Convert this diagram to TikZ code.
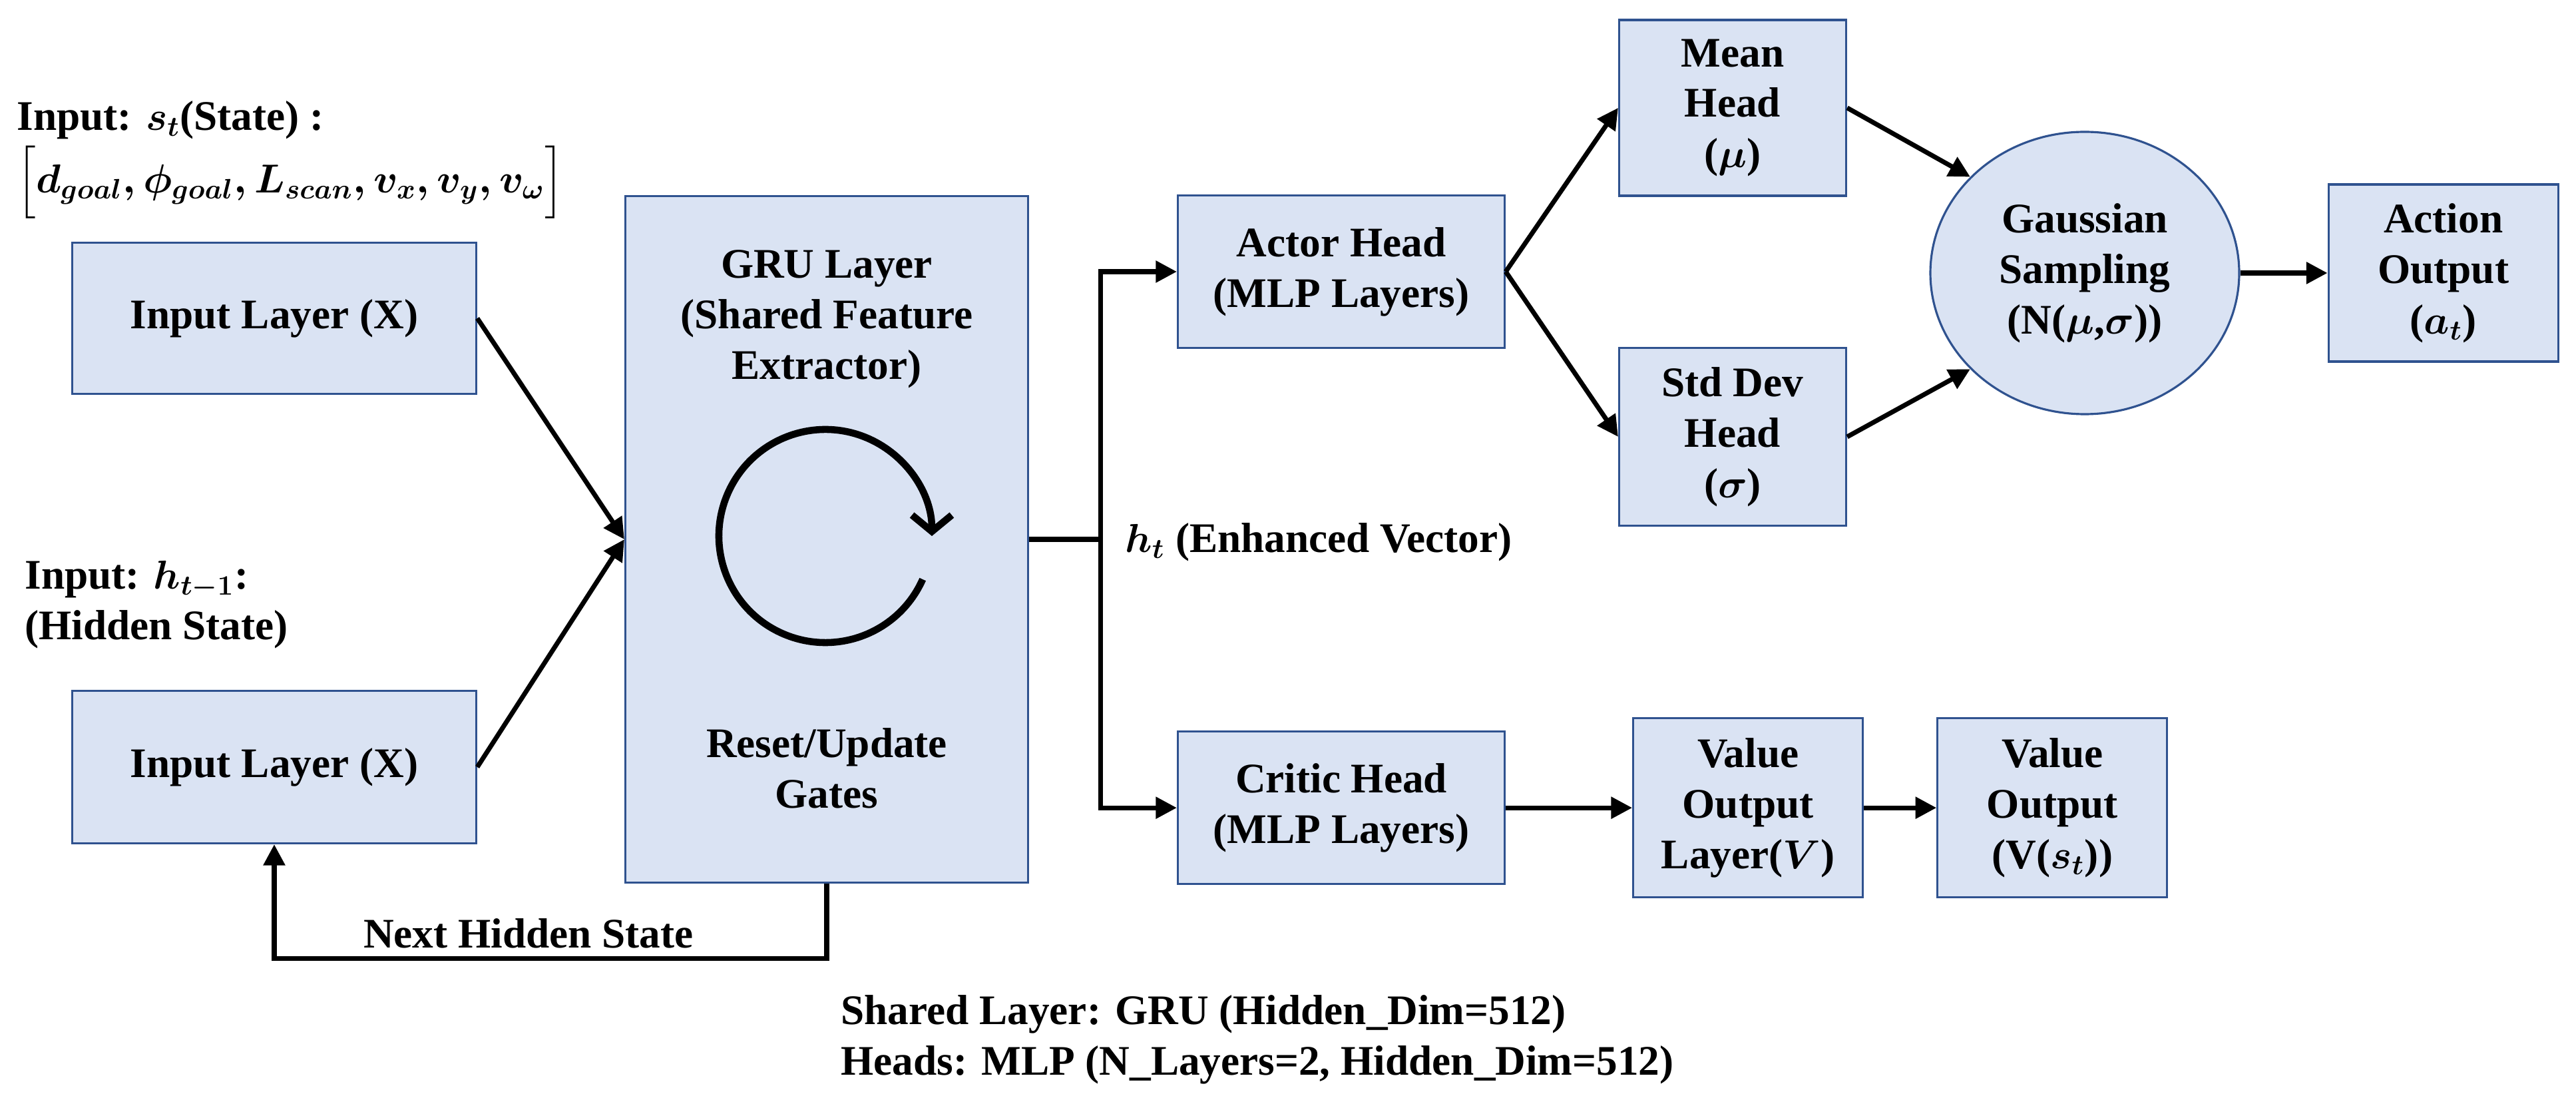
\documentclass[tikz,border=0pt]{standalone}
\usepackage{fontspec}
\setmainfont{Liberation Serif}
\usepackage{amsmath}
\definecolor{gruFill}{RGB}{218,227,243}
\definecolor{gruEdge}{RGB}{47,82,143}
\usetikzlibrary{arrows.meta,positioning,shapes.geometric,calc}

\begin{document}
\begin{tikzpicture}[
  every node/.style={font=\fontsize{18}{21.6}\selectfont\bfseries\boldmath},
  box/.style={draw=gruEdge, line width=0.9pt, fill=gruFill, align=center, inner sep=0pt},
  link/.style={line width=2pt, -{Triangle[length=9pt,width=9pt]}}
]
  \useasboundingbox (0,0) rectangle (38.7,-16.61);

  % inputs and shared GRU
  \node[box, minimum width=6.07cm, minimum height=2.27cm] (inX) at (4.12,-4.78) {Input Layer (X)};
  \node[box, minimum width=6.07cm, minimum height=2.29cm] (inH) at (4.12,-11.52) {Input Layer (X)};
  \node[box, minimum width=6.05cm, minimum height=10.31cm] (gru) at (12.42,-8.10) {};
  \node[align=center] (gruTop) at (12.42,-4.79) {GRU Layer\\(Shared Feature\\Extractor)};
  \node[align=center] (gruGate) at (12.42,-11.54) {Reset/Update\\Gates};
  \coordinate (loopC) at (12.40,-8.05);
  \draw[line width=3pt, -{Straight Barb[length=7pt,width=17pt]}]
    ($(loopC)+(-24:1.6)$) arc[start angle=-24, end angle=-360, radius=1.6];

  \node[anchor=west, inner sep=0pt] (stateLbl) at (0.25,-1.80) {Input: $s_t$(State) :};
  \node[anchor=west, inner sep=0pt] (stateVec) at (0.25,-2.74)
    {$\Big[d_{goal}, \phi_{goal}, L_{scan}, v_x, v_y, v_\omega\Big]$};
  \node[anchor=west, align=left] (hiddenLbl) at (0.25,-9.08) {Input: $h_{t-1}$:\\(Hidden State)};

  % heads
  \node[box, minimum width=4.91cm, minimum height=2.29cm] (actor) at (20.15,-4.08) {Actor Head\\(MLP Layers)};
  \node[box, minimum width=4.91cm, minimum height=2.29cm, below=5.73cm of actor] (critic) {Critic Head\\(MLP Layers)};
  \node[box, minimum width=3.41cm, minimum height=2.64cm] (mean) at (26.03,-1.62) {Mean\\Head\\($\mu$)};
  \node[box, minimum width=3.41cm, minimum height=2.67cm] (std) at (26.03,-6.56) {Std Dev\\Head\\($\sigma$)};
  \node[box, ellipse, minimum width=4.64cm, minimum height=4.24cm] (gauss) at (31.32,-4.10)
    {Gaussian\\Sampling\\(N($\mu$,$\sigma$))};
  \node[box, minimum width=3.45cm, minimum height=2.66cm, right=1.31cm of gauss] (action) {Action\\Output\\($a_t$)};
  \node[box, minimum width=3.45cm, minimum height=2.69cm, right=1.90cm of critic] (vlayer) {Value\\Output\\Layer($V$)};
  \node[box, minimum width=3.45cm, minimum height=2.69cm, right=1.09cm of vlayer] (vout) {Value\\Output\\(V($s_t$))};

  % connectors
  \draw[link] (inX.east) -- (gru.west);
  \draw[link] (inH.east) -- (gru.west);
  \coordinate (split) at (16.53,-8.10);
  \draw[line width=2pt] (gru.east) -- (split);
  \draw[link] (split) |- (actor.west);
  \draw[link] (split) |- (critic.west);
  \node[anchor=west] (htLbl) at (16.78,-8.14) {$h_t$ (Enhanced Vector)};
  \draw[link] (gru.south) -- ++(0,-1.12) -| node[pos=0.27, above] (nextLbl) {Next Hidden State} (inH.south);

  \draw[link] (actor.east) -- (mean.west);
  \draw[link] (actor.east) -- (std.west);
  \draw[link] (mean.east) -- (gauss.140);
  \draw[link] (std.east) -- (gauss.220);
  \draw[link] (gauss) -- (action);
  \draw[link] (critic) -- (vlayer);
  \draw[link] (vlayer) -- (vout);

  \node[anchor=west, align=left] (noteLbl) at (12.51,-15.61)
    {Shared Layer: GRU (Hidden\_Dim=512)\\Heads: MLP (N\_Layers=2, Hidden\_Dim=512)};
\end{tikzpicture}
\end{document}
